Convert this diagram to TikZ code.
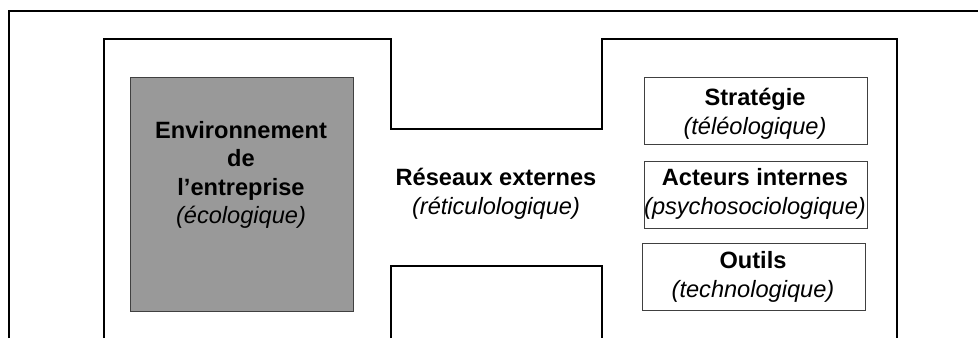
\documentclass[tikz,border=0pt]{standalone}
\usepackage{fontspec}
\setmainfont{Liberation Sans}
\begin{document}
\begin{tikzpicture}[x=1pt,y=-1pt,
  frame/.style={line width=2.2pt,black},
  env/.style={draw=black!75,line width=1pt,fill=black!40,minimum width=223pt,minimum height=234pt,anchor=north west,inner sep=0pt},
  rbox/.style={draw=black!75,line width=1pt,fill=white,minimum width=223pt,minimum height=67pt,anchor=north west,inner sep=0pt},
  lbl/.style={align=center,font=\fontsize{23.6}{28.5}\selectfont,inner sep=0pt}]
\useasboundingbox (0,0) rectangle (978,338);
% outer frame
\coordinate (f1) at (9,338);
\coordinate (f2) at (9,11);
\coordinate (f3) at (978,11);
\draw[frame] (f1) -- (f2) -- (f3);
% organisation outline
\coordinate (o1) at (104,338);
\coordinate (o2) at (104,39);
\coordinate (o3) at (391,39);
\coordinate (o4) at (391,129);
\coordinate (o5) at (602,129);
\coordinate (o6) at (602,39);
\coordinate (o7) at (897,39);
\coordinate (o8) at (897,338);
\draw[frame,line join=miter] (o1) -- (o2) -- (o3) -- (o4) -- (o5) -- (o6) -- (o7) -- (o8);
\coordinate (b1) at (391,338);
\coordinate (b2) at (391,266);
\coordinate (b3) at (602,266);
\coordinate (b4) at (602,338);
\draw[frame,line join=miter] (b1) -- (b2) -- (b3) -- (b4);
% environment box
\node[env] (env) at (130,77) {};
\node[lbl] (envt) at (241,175) {\textbf{Environnement}\\\textbf{de}\\\textbf{l’entreprise}\\\textit{(écologique)}};
% external networks
\node[lbl] (res) at (496,194) {\textbf{Réseaux externes}\\\textit{(réticulologique)}};
% right boxes
\node[rbox] (strat) at (644,77) {};
\node[lbl] (stratt) at (755,114) {\textbf{Stratégie}\\\textit{(téléologique)}};
\node[rbox] (act) at (644,161) {};
\node[lbl] (actt) at (755,194) {\textbf{Acteurs internes}\\\textit{(psychosociologique)}};
\node[rbox] (out) at (642,243) {};
\node[lbl] (outt) at (753,277) {\textbf{Outils}\\\textit{(technologique)}};
\end{tikzpicture}
\end{document}
